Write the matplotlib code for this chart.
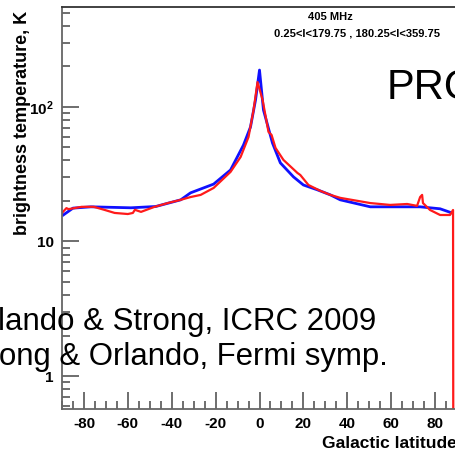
import matplotlib
matplotlib.use("Agg")
from matplotlib import pyplot as plt
from matplotlib.ticker import MultipleLocator, FixedLocator, NullFormatter

plt.rcParams['font.family'] = ['Liberation Sans', 'DejaVu Sans']
plt.rcParams['mathtext.fontset'] = 'custom'
plt.rcParams['mathtext.rm'] = 'Liberation Sans'
plt.rcParams['mathtext.bf'] = 'Liberation Sans:bold'

# model (blue) and survey (red), 405 MHz latitude profile
lat_model = [-89.5, -85, -76.8, -58.6, -47.3, -35.9, -31.4, -20.9, -13.2, -7.3, -4.1, -1.8, 0,
             1.8, 5.9, 9.5, 15.5, 20, 26.4, 32.3, 36.8, 50.5, 73.2, 82.3, 87.7]
t_model = [15.7, 17.7, 18.1, 17.8, 18.2, 20.4, 23.0, 26.7, 34.0, 52.1, 71.0, 113, 188,
           95, 54.0, 38.4, 30.2, 26.3, 24.2, 22.2, 20.4, 18.1, 18.1, 17.5, 16.3]

lat_data = [-90, -88, -87, -81, -75.5, -70.5, -66, -60, -57.7, -56.8, -54, -48, -41.8, -35.9,
            -31.4, -26.8, -20.9, -13.2, -8.6, -5, -2.7, -0.9, 1.4, 4.1, 5.5, 7.3, 10.9, 17.3,
            18.6, 22.3, 27.7, 32.3, 36.8, 50.5, 59.5, 67.3, 71.8, 73.2, 74.1, 74.5, 77.7,
            82.3, 86.8, 88.2, 88.4]
t_data = [16.3, 17.7, 17.4, 18.1, 18.1, 17.15, 16.3, 16.0, 16.3, 17.2, 16.6, 18.05, 19.3, 20.4,
          21.4, 22.2, 25.0, 32.9, 42.5, 59.8, 95, 153, 113, 65.2, 61.9, 49.6, 40.4, 32.3,
          31.2, 26.3, 23.8, 22.2, 21.1, 19.3, 18.7, 19.0, 18.4, 21.4, 22.2, 19.3, 17.15,
          15.74, 15.74, 17.15, 0.01]

x_ticks = list(range(-80, 81, 20))
y_ticks = [1, 10, 100]
y_ticklabels = ["1", "10", r"$\mathbf{10^2}$"]

fig = plt.figure(figsize=(4.55, 4.54), dpi=100)
W, H = 455.0, 454.0
ax = fig.add_axes([62 / W, 45 / H, (457 - 62) / W, (409 - 7) / H])

ax.plot(lat_model, t_model, color="#1010ff", lw=2.0, solid_joinstyle="round")
ax.plot(lat_data, t_data, color="#ff1a1a", lw=1.6, solid_joinstyle="round")

ax.set_yscale("log")
ax.set_xlim(-90, 90)
ax.set_ylim(0.569, 553)

ax.xaxis.set_minor_locator(MultipleLocator(5))
ax.set_xticks(x_ticks)
ax.set_xticklabels([str(i) for i in x_ticks], fontweight="bold", fontsize=11)

ax.yaxis.set_major_locator(FixedLocator(y_ticks))
ax.set_yticklabels(y_ticklabels, fontweight="bold", fontsize=11)
minors = [m * 10.0 ** e for e in range(-1, 3) for m in range(2, 10)]
ax.yaxis.set_minor_locator(FixedLocator(minors))
ax.yaxis.set_minor_formatter(NullFormatter())

ax.tick_params(which="both", direction="in", color="#555555", width=1.2)
ax.tick_params(which="major", length=12)
ax.tick_params(which="minor", length=6)
ax.tick_params(axis="x", pad=6)
ax.tick_params(axis="y", pad=6)
for s in ax.spines.values():
    s.set_color("#333333")
    s.set_linewidth(1.3)
ax.spines["left"].set_color("#666666")
ax.spines["bottom"].set_color("#666666")

fig.text(23 / W, 1 - 235 / H, "brightness temperature, K", rotation=90, ha="center",
         va="bottom", fontsize=13, fontweight="bold")
fig.text(322 / W, 1 - 443 / H, "Galactic latitude", ha="left", va="center",
         fontsize=12.5, fontweight="bold")

fig.text(330 / W, 1 - 17 / H, "405 MHz", ha="center", va="center", fontsize=8, fontweight="bold")
fig.text(357 / W, 1 - 33 / H, "0.25<l<179.75 , 180.25<l<359.75", ha="center", va="center",
         fontsize=8, fontweight="bold")

fig.text(387 / W, 1 - 99 / H, "PRO", ha="left", va="baseline", fontsize=30)
fig.text(-2 / W, 1 - 330 / H, "lando & Strong, ICRC 2009", ha="left", va="baseline", fontsize=22.5)
fig.text(-1 / W, 1 - 365 / H, "ong & Orlando, Fermi symp.", ha="left", va="baseline", fontsize=22.4)

fig.savefig("out.png", dpi=100)
